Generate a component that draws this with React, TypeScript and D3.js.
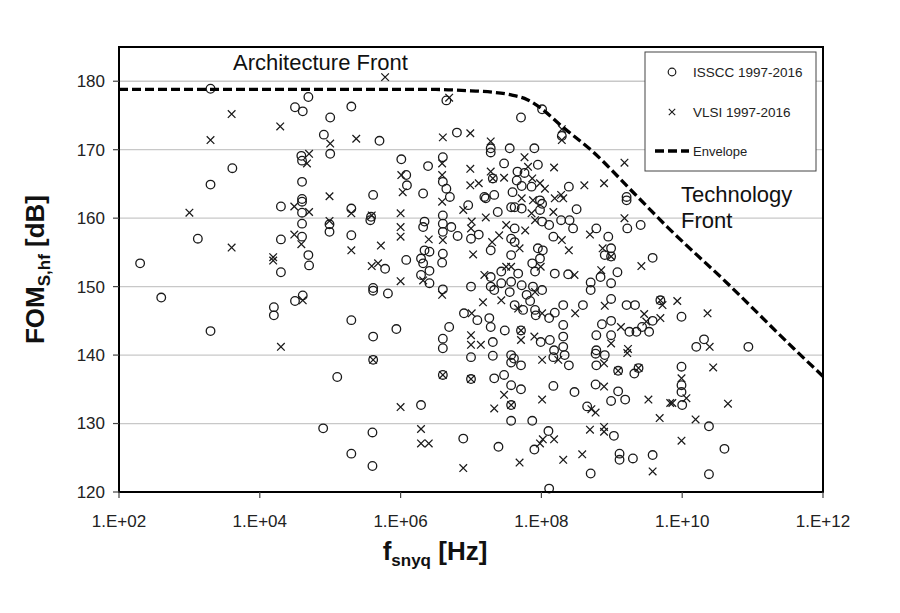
import * as d3 from "d3";

// FOM_S,hf vs. f_snyq (log10 of frequency in Hz)
const issccLogF = [
  3.3, 3.61, 3.3, 4.69, 4.5, 4.61, 5.0, 5.3, 4.91, 4.59, 4.6, 5.0, 4.6, 4.6,
  3.12, 2.3, 2.6, 3.3, 4.3, 4.6, 4.6, 5.3, 4.6, 4.99, 4.99, 4.3, 4.6, 5.3, 4.69, 4.7, 4.3, 4.61, 4.5, 4.2, 4.2, 5.3,
  5.1, 4.9, 5.3,
  6.65, 5.7, 6.8, 7.28, 7.28, 7.55, 6.01, 6.39, 6.6, 6.08, 6.6, 6.09, 6.32, 6.65, 7.47, 7.31, 5.61, 7.19, 7.33, 7.59,
  6.7, 6.96, 7.21, 7.38, 7.57, 5.58, 5.57, 6.34, 6.32, 6.6, 6.6, 6.6, 6.72, 6.81, 7.0, 7.11, 7.28, 7.57, 7.57, 6.08,
  5.78, 6.34, 6.41, 6.29, 6.32, 6.41, 6.29, 6.6, 6.59, 6.41, 5.61, 5.61, 5.82, 6.6, 7.0, 7.28, 7.28, 7.33, 7.43, 7.55,
  7.43, 7.57, 5.94, 5.61, 6.9, 7.09, 7.26, 7.28, 7.48, 7.31, 6.69, 6.6, 6.6,
  5.61, 6.6, 7.0, 7.0, 7.31, 7.57, 7.57, 7.33, 7.47, 7.57, 7.57, 6.29, 5.6, 5.6, 6.89, 7.39, 7.57,
  8.01, 7.71, 8.29, 7.9, 7.95, 7.66, 7.76, 7.65, 7.72, 7.86, 8.39, 9.21,
  7.98, 8.01, 7.62, 7.72, 7.98, 8.5, 8.28, 8.4, 8.01, 8.11, 8.45, 7.62, 8.17, 8.78, 8.95, 9.21, 9.22, 9.41, 7.62, 7.95,
  8.02, 7.98, 7.87, 7.91, 8.19, 8.38, 8.9, 8.99, 8.99, 8.84, 9.08, 8.99, 9.58, 8.7, 8.7, 7.67, 7.72, 7.88, 8.01, 7.79,
  7.84, 7.62, 7.74, 7.91, 7.92, 8.19, 8.11, 8.31, 8.59, 8.99, 9.21, 9.33, 9.69, 9.58, 8.99, 8.86, 8.31, 9.25, 9.35, 9.43,
  9.53, 8.78, 8.99, 8.31, 8.31, 7.71, 7.99, 8.12, 8.18, 8.78,
  7.61, 7.71, 8.17, 8.33, 8.39, 8.77, 8.9, 8.78, 9.09, 9.38, 9.32, 7.71, 8.17, 8.47, 8.77, 9.09, 8.99, 9.19, 8.65, 7.87,
  8.1, 7.9, 9.03, 9.11, 9.11, 9.3, 9.58, 8.7, 8.11,
  9.99, 10.31, 10.2, 10.94, 9.99, 9.99, 9.99, 10.0, 10.38, 10.6, 10.38,
];
const issccFom = [
  178.9, 167.3, 164.9, 177.7, 176.2, 175.6, 174.7, 176.3, 172.2, 169.1, 168.4, 169.4, 165.3, 162.8,
  157.0, 153.4, 148.4, 143.5, 161.7, 162.4, 160.8, 161.4, 159.2, 159.1, 158.0, 156.9, 157.3, 157.5, 154.6, 153.1, 152.1, 148.7, 147.9, 147.0, 145.8, 145.1,
  136.8, 129.3, 125.6,
  177.2, 171.3, 172.5, 170.2, 169.6, 170.2, 168.6, 167.6, 168.9, 166.3, 165.3, 164.8, 163.6, 164.3, 168.0, 165.8, 163.4, 163.1, 163.4, 163.8,
  163.1, 161.9, 162.9, 160.9, 161.6, 160.2, 159.7, 159.5, 158.7, 160.4, 159.2, 158.0, 158.7, 157.4, 157.0, 157.6, 155.3, 157.0, 154.6, 153.9,
  152.6, 155.3, 155.1, 154.1, 153.4, 152.3, 151.7, 154.8, 153.5, 150.5, 149.8, 149.4, 149.0, 149.6, 150.0, 151.4, 150.0, 149.5, 150.5, 149.2,
  152.2, 150.7, 143.8, 142.7, 146.1, 145.1, 145.4, 144.1, 143.6, 141.9, 144.1, 142.4, 141.0,
  139.3, 137.1, 136.5, 139.7, 139.9, 140.0, 138.9, 136.6, 137.1, 135.6, 132.7, 132.7, 128.7, 123.8, 127.8, 126.6, 130.4,
  175.9, 174.7, 172.0, 170.2, 167.8, 166.8, 166.6, 165.5, 164.7, 164.6, 164.6, 163.1,
  162.6, 162.1, 161.6, 161.4, 161.2, 161.3, 159.7, 159.7, 159.5, 159.0, 158.5, 158.5, 157.3, 158.5, 157.3, 162.6, 158.5, 159.0, 156.5, 155.6,
  155.3, 154.1, 153.4, 152.2, 151.9, 151.8, 154.6, 154.4, 155.6, 151.4, 152.1, 150.5, 154.2, 150.6, 149.5, 151.9, 150.2, 150.0, 149.5, 148.8,
  147.9, 147.3, 146.6, 146.6, 145.8, 146.2, 145.4, 147.3, 147.3, 148.2, 147.3, 147.3, 148.0, 145.0, 145.0, 144.5, 144.4, 143.4, 143.4, 144.1,
  143.4, 142.9, 142.9, 142.7, 141.2, 143.6, 141.9, 142.2, 140.7, 140.7,
  139.5, 138.5, 139.7, 140.0, 138.5, 140.2, 140.0, 138.5, 137.7, 138.1, 137.3, 135.0, 135.5, 134.6, 135.7, 134.7, 133.3, 133.5, 132.5, 130.4,
  128.9, 126.2, 128.2, 125.6, 124.7, 124.9, 125.4, 122.7, 120.5,
  145.6, 142.3, 141.2, 141.2, 138.3, 135.6, 134.6, 132.7, 129.6, 126.3, 122.6,
];

const vlsiLogF = [
  3.6, 3.3, 4.29, 5.0, 5.37, 4.7, 4.67, 4.99,
  3.0, 3.6, 4.49, 4.7, 5.3, 4.99, 4.49, 4.59, 5.3, 4.19, 4.19, 4.61, 4.3,
  5.78, 6.69, 6.6, 6.99, 7.28, 6.59, 6.01, 6.59, 6.03, 6.99, 7.28, 7.31, 7.47, 6.99, 7.11,
  6.59, 6.89, 7.21, 5.59, 6.0, 6.0, 6.0, 5.72, 6.6, 6.4, 7.01, 7.0, 7.03, 7.3, 7.4, 7.5, 5.59, 5.68, 6.0, 6.32,
  6.59, 7.19, 7.43, 7.17, 7.5, 7.57, 7.01, 7.0, 7.0, 7.14,
  5.61, 6.6, 7.0, 7.47, 7.57, 7.33, 6.0, 6.29, 6.29, 6.4, 6.89,
  8.29, 8.29, 7.76, 7.81, 8.18, 9.18, 7.87, 7.98, 8.05, 8.61, 8.89, 8.28,
  7.72, 7.88, 8.19, 8.31, 7.86, 8.17, 7.91, 7.77, 8.29, 8.39, 8.69, 9.18, 7.69, 7.99, 8.47, 8.87, 8.99, 8.85, 9.42, 7.91,
  7.67, 8.01, 8.48, 8.9, 9.72, 9.69, 9.46, 9.69, 9.49, 9.13, 8.99, 9.23, 7.71, 7.71, 7.9,
  8.01, 8.24, 8.89, 9.22, 9.09, 9.38, 8.01, 8.89, 9.52, 9.83, 8.71, 8.77, 9.68, 8.02, 7.98, 8.18, 8.69, 8.89, 8.89, 7.69,
  8.31, 8.58, 9.58,
  9.93, 10.36, 10.39, 10.44, 9.99, 10.06, 9.86, 10.65, 10.19, 9.99,
];
const vlsiFom = [
  175.2, 171.4, 173.4, 170.9, 171.6, 169.4, 168.0, 163.2,
  160.8, 155.7, 161.7, 160.9, 160.7, 159.6, 157.6, 156.2, 155.3, 154.3, 153.8, 148.0, 141.2,
  180.6, 177.6, 171.8, 172.4, 171.2, 168.0, 166.3, 166.3, 163.8, 167.2, 166.8, 165.8, 165.9, 164.8, 165.1,
  162.4, 161.2, 160.1, 160.4, 160.7, 158.7, 157.3, 156.0, 156.8, 156.9, 159.5, 158.5, 154.7, 156.5, 157.5, 159.0, 153.0, 153.4, 150.8, 150.9,
  148.8, 151.7, 148.0, 147.7, 152.9, 152.9, 146.1, 142.9, 141.5, 141.5,
  139.3, 137.1, 136.5, 134.2, 132.7, 132.2, 132.4, 129.2, 127.1, 127.1, 123.5,
  173.0, 171.4, 168.9, 167.5, 167.4, 168.1, 165.8, 165.1, 164.3, 164.8, 165.1, 163.4,
  162.9, 162.6, 162.9, 162.9, 160.7, 160.9, 159.7, 158.2, 156.8, 155.3, 157.6, 160.0, 155.6, 152.9, 151.7, 155.6, 154.4, 152.4, 153.0, 149.2,
  146.8, 146.1, 146.1, 147.2, 147.3, 148.0, 146.0, 145.4, 144.9, 144.1, 141.7, 140.9, 143.6, 142.2, 142.7,
  139.3, 139.3, 138.8, 140.3, 137.7, 138.1, 133.5, 135.4, 133.5, 133.0, 132.1, 131.6, 130.8, 127.7, 127.1, 127.7, 129.1, 129.5, 128.8, 124.3,
  124.7, 125.5, 123.0,
  147.9, 146.1, 141.2, 138.2, 136.6, 133.7, 133.0, 132.9, 130.6, 127.5,
];

// Envelope (architecture front flattening into the technology front)
const envLogF = [2, 5, 6.5, 7, 7.3, 7.57, 7.8, 8.0, 8.28, 8.71, 9.32, 9.79, 10.64, 11.58, 12];
const envFom = [178.8, 178.8, 178.8, 178.6, 178.4, 178.0, 177.3, 176.0, 173.5, 169.9, 163.6, 158.7, 150.5, 141.0, 136.9];

const xTicks = [1e2, 1e4, 1e6, 1e8, 1e10, 1e12];
const yTicks = [120, 130, 140, 150, 160, 170, 180];
const legendLabels = ["ISSCC 1997-2016", "VLSI 1997-2016", "Envelope"];

const W = 900;
const H = 613;
const m = { left: 119, right: 823, top: 47, bottom: 492 };
const font = "'Liberation Sans', Arial, sans-serif";

const fmtTick = (v: number) => `1.E+${String(Math.round(Math.log10(v))).padStart(2, "0")}`;

export default function App() {
  const x = d3.scaleLog().domain([1e2, 1e12]).range([m.left, m.right]);
  const y = d3.scaleLinear().domain([120, 185]).range([m.bottom, m.top]);

  const envLine = d3
    .line<number>()
    .x((_, i) => x(10 ** envLogF[i]))
    .y((d) => y(d))
    .curve(d3.curveMonotoneX);

  const cross = (cx: number, cy: number, s: number, key: string | number) => (
    <path key={key} d={`M${cx - s},${cy - s}L${cx + s},${cy + s}M${cx - s},${cy + s}L${cx + s},${cy - s}`} />
  );

  return (
    <div style={{ position: "fixed", left: 0, top: 0 }}>
      <svg width={W} height={H} style={{ display: "block", background: "#fff" }} fontFamily={font}>
        {/* gridlines */}
        <g stroke="#c8c8c8" strokeWidth={1.3}>
          {yTicks.slice(1).map((t) => (
            <line key={t} x1={m.left} x2={m.right} y1={y(t)} y2={y(t)} />
          ))}
        </g>

        {/* ISSCC circles */}
        <g fill="none" stroke="#1a1a1a" strokeWidth={1.3}>
          {issccLogF.map((lf, i) => (
            <circle key={i} cx={x(10 ** lf)} cy={y(issccFom[i])} r={4.3} />
          ))}
        </g>

        {/* VLSI crosses */}
        <g fill="none" stroke="#1a1a1a" strokeWidth={1.25}>
          {vlsiLogF.map((lf, i) => cross(x(10 ** lf), y(vlsiFom[i]), 3.8, i))}
        </g>

        {/* envelope */}
        <path d={envLine(envFom) ?? ""} fill="none" stroke="#000" strokeWidth={3.3} strokeDasharray="9 4" />

        {/* frame */}
        <rect x={m.left} y={m.top} width={m.right - m.left} height={m.bottom - m.top} fill="none" stroke="#000" strokeWidth={2} />

        {/* y axis */}
        <g fontSize={17} fill="#222">
          {yTicks.map((t) => (
            <g key={t}>
              <line x1={m.left - 6} x2={m.left} y1={y(t)} y2={y(t)} stroke="#444" strokeWidth={1.2} />
              <text x={m.left - 14} y={y(t)} dy="0.35em" textAnchor="end">
                {t}
              </text>
            </g>
          ))}
        </g>

        {/* x axis */}
        <g fontSize={17} fill="#222">
          {xTicks.map((t) => (
            <g key={t}>
              <line x1={x(t)} x2={x(t)} y1={m.bottom} y2={m.bottom + 6} stroke="#444" strokeWidth={1.2} />
              <text x={x(t)} y={m.bottom + 35} textAnchor="middle">
                {fmtTick(t)}
              </text>
            </g>
          ))}
        </g>

        {/* axis titles */}
        <text x={435} y={560} textAnchor="middle" fontWeight="bold" fontSize={26} fill="#111">
          f<tspan fontSize={17} dy={6}>snyq</tspan>
          <tspan dy={-6}> [Hz]</tspan>
        </text>
        <text
          transform={`translate(44,${(m.top + m.bottom) / 2}) rotate(-90)`}
          textAnchor="middle"
          fontWeight="bold"
          fontSize={26}
          fill="#111"
        >
          FOM<tspan fontSize={17} dy={6}>S,hf</tspan>
          <tspan dy={-6}> [dB]</tspan>
        </text>

        {/* annotations */}
        <text x={233} y={70} fontSize={22} fill="#111">
          Architecture Front
        </text>
        <text x={681} y={202} fontSize={22} fill="#111">
          Technology
        </text>
        <text x={681} y={228} fontSize={22} fill="#111">
          Front
        </text>

        {/* legend */}
        <g>
          <rect x={645} y={52} width={171} height={119} fill="#fff" stroke="#444" strokeWidth={1} />
          <circle cx={672} cy={72} r={3.8} fill="none" stroke="#1a1a1a" strokeWidth={1.2} />
          <text x={693} y={76.5} fontSize={13.5} fill="#222">
            {legendLabels[0]}
          </text>
          <g stroke="#1a1a1a" strokeWidth={1.1}>{cross(672, 112, 3.2, "lx")}</g>
          <text x={693} y={116.5} fontSize={13.5} fill="#222">
            {legendLabels[1]}
          </text>
          <line x1={655} x2={689} y1={151} y2={151} stroke="#000" strokeWidth={3.5} strokeDasharray="9 4" />
          <text x={693} y={155.5} fontSize={13} fill="#222">
            {legendLabels[2]}
          </text>
        </g>
      </svg>
    </div>
  );
}
